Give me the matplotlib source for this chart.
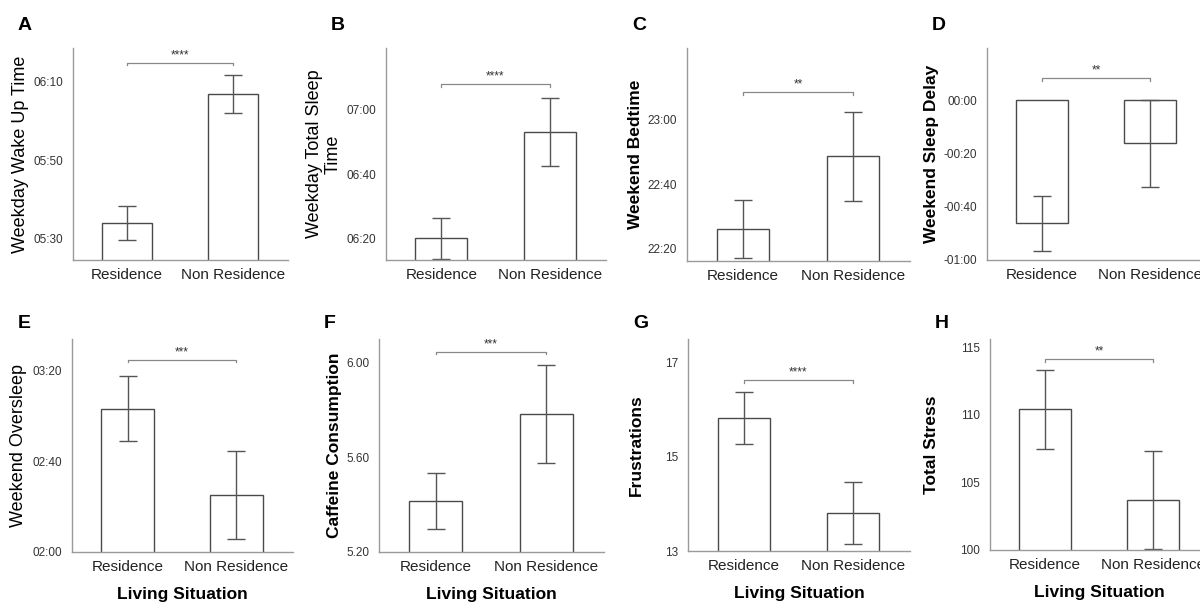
import numpy as np
import matplotlib.pyplot as plt
from matplotlib.ticker import FixedLocator, FuncFormatter

plt.rcParams['font.family'] = ['Liberation Sans', 'DejaVu Sans']

groups = ["Residence", "Non Residence"]

# time values are in minutes (clock time or duration)
wake_mean = [334.0, 366.8]
wake_err = [4.3, 4.8]
wake_ticks = [330, 350, 370]

tst_mean = [380.0, 413.1]
tst_err = [6.4, 10.5]
tst_ticks = [380, 400, 420]

bed_mean = [1346.1, 1368.7]
bed_err = [9.0, 13.8]
bed_ticks = [1340, 1360, 1380]

delay_mean = [-46.2, -16.1]
delay_err = [10.3, 16.3]
delay_ticks = [-60, -40, -20, 0]

over_mean = [183.0, 145.1]
over_err = [14.3, 19.5]
over_ticks = [120, 160, 200]

caff_mean = [5.415, 5.784]
caff_err = [0.118, 0.208]
caff_ticks = [5.2, 5.6, 6.0]

frus_mean = [15.82, 13.81]
frus_err = [0.55, 0.66]
frus_ticks = [13, 15, 17]

stress_mean = [110.39, 103.71]
stress_err = [2.9, 3.6]
stress_ticks = [100, 105, 110, 115]

letters = ["A", "B", "C", "D", "E", "F", "G", "H"]
ylabels = ["Weekday Wake Up Time", "Weekday Total Sleep\nTime", "Weekend Bedtime",
           "Weekend Sleep Delay", "Weekend Oversleep", "Caffeine Consumption",
           "Frustrations", "Total Stress"]
stars = ["****", "****", "**", "**", "***", "***", "****", "**"]
bracket_y = [374.8, 428.0, 1388.6, 8.4, 204.7, 6.046, 16.62, 114.1]


def fmt_time(v, pos=None):
    sign = "-" if v < 0 else ""
    m = int(round(abs(v)))
    return f"{sign}{(m // 60) % 24:02d}:{m % 60:02d}"


def fmt_2f(v, pos=None):
    return f"{v:.2f}"


def fmt_int(v, pos=None):
    return f"{v:.0f}"


panels = [
    (wake_mean, wake_err, wake_ticks, (324.6, 378.5), fmt_time),
    (tst_mean, tst_err, tst_ticks, (373.2, 439.3), fmt_time),
    (bed_mean, bed_err, bed_ticks, (1336.2, 1402.3), fmt_time),
    (delay_mean, delay_err, delay_ticks, (-60, 19.7), fmt_time),
    (over_mean, over_err, over_ticks, (120, 213.8), fmt_time),
    (caff_mean, caff_err, caff_ticks, (5.2, 6.10), fmt_2f),
    (frus_mean, frus_err, frus_ticks, (13, 17.5), fmt_int),
    (stress_mean, stress_err, stress_ticks, (100, 115.6), fmt_int),
]

# axes boxes in pixels: left, right, top, bottom
boxes = [
    (73, 288, 48, 260), (386, 606, 48, 260), (687, 910, 48, 261), (987, 1206, 48, 260),
    (72, 293, 339, 552), (379, 604, 339, 552), (688, 910, 339, 551), (990, 1209, 339, 550),
]
ylab_x = [21, 324, 635, 931, 19, 334, 636, 931]
ylab_bold = [False, False, True, True, False, True, True, True]

W, H = 1200, 602
fig = plt.figure(figsize=(W / 100, H / 100), dpi=100)

axis_col = "#9a9a9a"
bar_col = "#4a4a4a"
err_col = "#555555"

for i, (mean, err, ticks, ylim, fmt) in enumerate(panels):
    l, r, t, b = boxes[i]
    ax = fig.add_axes([l / W, 1 - b / H, (r - l) / W, (b - t) / H])
    x = np.arange(len(groups))
    ax.bar(x, mean, width=0.48, color="white", edgecolor=bar_col, linewidth=1.0)
    ax.errorbar(x, mean, yerr=err, fmt="none", ecolor=err_col, elinewidth=1.0,
                capsize=6.5, capthick=1.0)
    ax.set_xlim(-0.51, 1.52)
    ax.set_ylim(*ylim)
    ax.yaxis.set_major_locator(FixedLocator(ticks))
    ax.yaxis.set_major_formatter(FuncFormatter(fmt))
    ax.set_xticks(x)
    ax.set_xticklabels(groups, fontsize=11, color="#222222")
    ax.tick_params(axis="y", length=0, pad=7, labelsize=8.5, labelcolor="#333333")
    ax.tick_params(axis="x", length=0, pad=6)
    for s in ["top", "right"]:
        ax.spines[s].set_visible(False)
    for s in ["left", "bottom"]:
        ax.spines[s].set_color(axis_col)
        ax.spines[s].set_linewidth(1.0)

    # significance bracket
    yb = bracket_y[i]
    dy = 0.012 * (ylim[1] - ylim[0])
    ax.plot([0, 0, 1, 1], [yb - dy, yb, yb, yb - dy], color="#888888", lw=0.9,
            clip_on=False)
    ax.text(0.5, yb + 0.6 * dy, stars[i], ha="center", va="bottom", fontsize=8.5,
            color="#333333")

    ax.set_ylabel(ylabels[i], fontsize=13 if not ylab_bold[i] else 12.5,
                  fontweight="bold" if ylab_bold[i] else "normal",
                  linespacing=1.1)
    ax.yaxis.label.set_va("center")
    ax.yaxis.set_label_coords((ylab_x[i] - l) / (r - l), 0.5)

    if i >= 4:
        ax.set_xlabel("Living Situation", fontsize=12.5, fontweight="bold", labelpad=9)

    fig.text((l - 55) / W if i % 4 else 18 / W, 1 - (25 if i < 4 else 324) / H,
             letters[i], fontsize=14, fontweight="bold", ha="left", va="center")

fig.savefig("out.png", dpi=100)
